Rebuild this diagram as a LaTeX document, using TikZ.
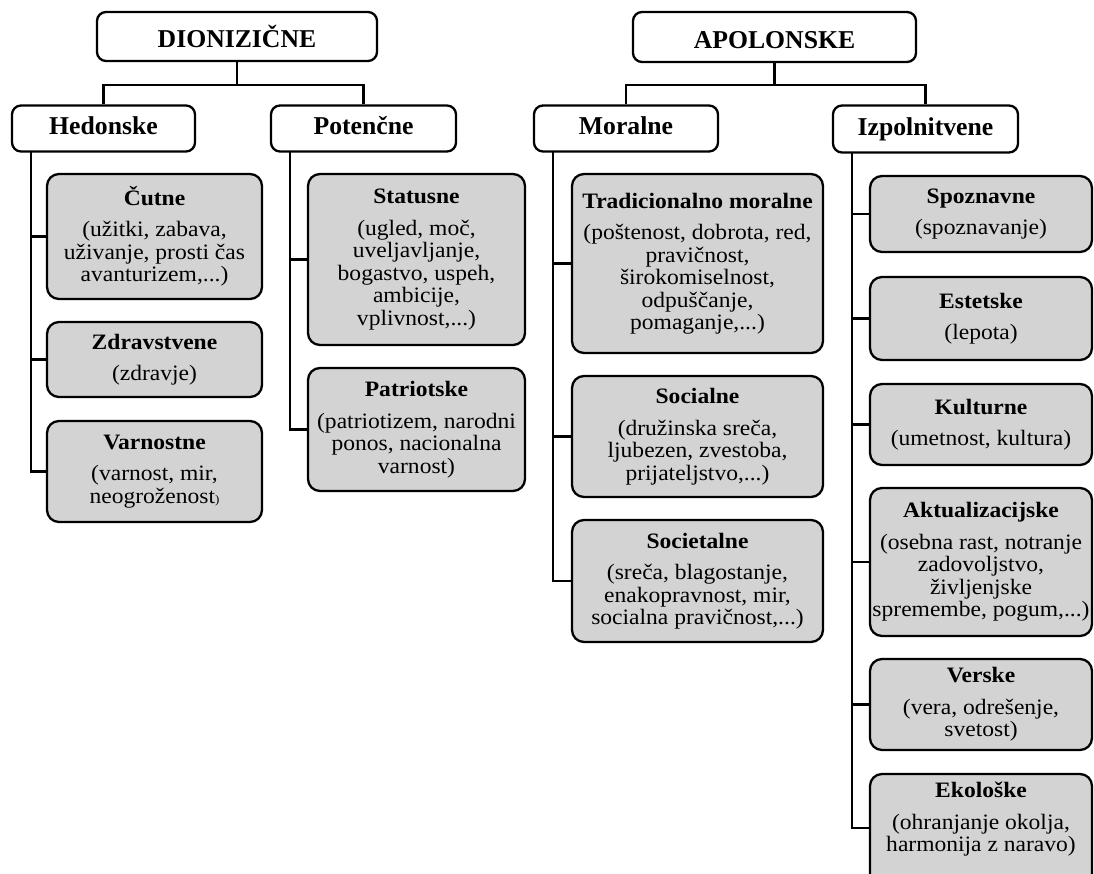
\documentclass[tikz,border=0pt]{standalone}
\usepackage{fontspec}
\setmainfont{Liberation Serif}
\newfontfamily\leaffam[FakeStretch=1.07]{Liberation Serif}
\newcommand{\bigf}{\fontsize{25.7}{28}\selectfont\bfseries}
\newcommand{\leaff}{\leaffam\fontsize{22}{22.5}\selectfont}
\definecolor{boxgray}{RGB}{211,211,211}
\tikzset{
  lvlbox/.style={draw=black, line width=2.3pt, rounded corners=9pt, fill=white,
    inner sep=0pt, font=\bigf, align=center},
  lvlone/.style={lvlbox, text height=24pt, text depth=1pt},
  lvltwo/.style={lvlbox, text height=17pt, text depth=4pt},
  leafbox/.style={draw=black, line width=2.3pt, rounded corners=12pt, fill=boxgray,
    inner sep=0pt, font=\leaff, align=center},
  conn/.style={draw=black, line width=2.3pt}
}
\begin{document}
\begin{tikzpicture}[x=1pt, y=-1pt]
\useasboundingbox (0,0) rectangle (1094,874);
\fill[white] (0,0) rectangle (1094,874);
\clip (0,0) rectangle (1094,874);

% level 1
\node[lvlone, minimum width=280pt, minimum height=49pt] (dio) at (237,36.5) {DIONIZIČNE};
\node[lvlone, minimum width=283pt, minimum height=50pt] (apo) at (774.5,37) {APOLONSKE};

% level 2
\node[lvltwo, minimum width=183pt, minimum height=46pt] (hed) at (103.5,128.5) {Hedonske};
\node[lvltwo, minimum width=185pt, minimum height=46pt] (pot) at (363.5,128.5) {Potenčne};
\node[lvltwo, minimum width=184pt, minimum height=46pt] (mor) at (626,128.5) {Moralne};
\node[lvltwo, minimum width=185pt, minimum height=47pt] (izp) at (925.5,129) {Izpolnitvene};

% bus connectors
\coordinate (dbus) at (237,85);
\coordinate (abus) at (774.5,85);
\draw[conn] (dio.south) -- (dbus);
\draw[conn] (hed.north) |- (dbus) -| (pot.north);
\draw[conn] (apo.south) -- (abus);
\draw[conn] (mor.north) |- (abus) -| (izp.north);

% leaves: Hedonske
\node[leafbox, minimum width=215pt, minimum height=125pt] (cut) at (154.5,236.5)
  {\textbf{Čutne}\\[9pt](užitki, zabava,\\uživanje, prosti čas\\avanturizem,...)};
\node[leafbox, minimum width=215pt, minimum height=75pt] (zdr) at (154.5,359.5)
  {\textbf{Zdravstvene}\\[9pt](zdravje)};
\node[leafbox, minimum width=215pt, minimum height=101pt] (var) at (154.5,471.5)
  {\textbf{Varnostne}\\[9pt](varnost, mir,\\neogroženost{\fontsize{12}{12}\selectfont)}};

% leaves: Potenčne
\node[leafbox, minimum width=217pt, minimum height=171pt] (sta) at (416.5,259.5)
  {\textbf{Statusne}\\[9pt](ugled, moč,\\uveljavljanje,\\bogastvo, uspeh,\\ambicije,\\vplivnost,...)};
\node[leafbox, minimum width=217pt, minimum height=123pt] (pat) at (416.5,429.5)
  {\textbf{Patriotske}\\[9pt](patriotizem, narodni\\ponos, nacionalna\\varnost)};

% leaves: Moralne
\node[leafbox, minimum width=251pt, minimum height=179pt] (tra) at (697.5,263.5)
  {\textbf{Tradicionalno moralne}\\[9pt](poštenost, dobrota, red,\\pravičnost,\\širokomiselnost,\\odpuščanje,\\pomaganje,...)};
\node[leafbox, minimum width=251pt, minimum height=121pt] (soc) at (697.5,436.5)
  {\textbf{Socialne}\\[9pt](družinska sreča,\\ljubezen, zvestoba,\\prijateljstvo,...)};
\node[leafbox, minimum width=251pt, minimum height=122pt] (sot) at (697.5,581)
  {\textbf{Societalne}\\[9pt](sreča, blagostanje,\\enakopravnost, mir,\\socialna pravičnost,...)};

% leaves: Izpolnitvene
\node[leafbox, minimum width=222pt, minimum height=76pt] (spo) at (981,214)
  {\textbf{Spoznavne}\\[9pt](spoznavanje)};
\node[leafbox, minimum width=222pt, minimum height=83pt] (est) at (981,318.5)
  {\textbf{Estetske}\\[9pt](lepota)};
\node[leafbox, minimum width=222pt, minimum height=81pt] (kul) at (981,424.5)
  {\textbf{Kulturne}\\[9pt](umetnost, kultura)};
\node[leafbox, minimum width=222pt, minimum height=148pt] (akt) at (981,562)
  {\textbf{Aktualizacijske}\\[9pt](osebna rast, notranje\\zadovoljstvo,\\življenjske\\spremembe, pogum,...)};
\node[leafbox, minimum width=222pt, minimum height=91pt] (ver) at (981,704.5)
  {\textbf{Verske}\\[9pt](vera, odrešenje,\\svetost)};
\node[leafbox, minimum width=222pt, minimum height=140pt, text depth=54pt] (eko) at (981,844)
  {\textbf{Ekološke}\\[9pt](ohranjanje okolja,\\harmonija z naravo)};

% trunks
\coordinate (hedT) at (31,151);
\coordinate (potT) at (290,151);
\coordinate (morT) at (553,151);
\coordinate (izpT) at (852,152);
\draw[conn] (hedT) |- (cut.west);
\draw[conn] (hedT) |- (zdr.west);
\draw[conn] (hedT) |- (var.west);
\draw[conn] (potT) |- (sta.west);
\draw[conn] (potT) |- (pat.west);
\draw[conn] (morT) |- (tra.west);
\draw[conn] (morT) |- (soc.west);
\draw[conn] (morT) |- (sot.west);
\draw[conn] (izpT) |- (spo.west);
\draw[conn] (izpT) |- (est.west);
\draw[conn] (izpT) |- (kul.west);
\draw[conn] (izpT) |- (akt.west);
\draw[conn] (izpT) |- (ver.west);
\draw[conn] (izpT) |- ([yshift=16pt]eko.west);
\end{tikzpicture}
\end{document}
